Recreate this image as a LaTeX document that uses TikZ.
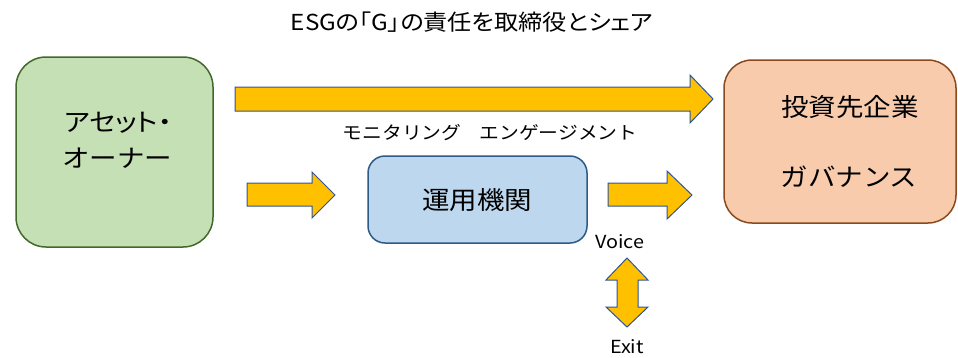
\documentclass[tikz,border=0pt]{standalone}
\usepackage{fontspec}
\setmainfont[FakeStretch=1.1]{Noto Sans CJK JP}
\newfontfamily\jpprop[FakeStretch=1.1,RawFeature=+palt]{Noto Sans CJK JP}
\definecolor{gfill}{HTML}{C5E0B4}
\definecolor{gdraw}{HTML}{43682B}
\definecolor{bfill}{HTML}{BDD7EE}
\definecolor{bdraw}{HTML}{2E5A87}
\definecolor{ofill}{HTML}{F8CBAD}
\definecolor{odraw}{HTML}{8A4A1E}
\definecolor{afill}{HTML}{FFC000}
\definecolor{adraw}{HTML}{2F5597}
\tikzset{
  box/.style={draw, line width=1.5pt, inner sep=0pt},
  blockarrow/.style={fill=afill, draw=adraw, line width=1pt, line join=miter},
  bigtxt/.style={font=\fontsize{25}{29}\selectfont, inner sep=0pt},
  midtxt/.style={font=\fontsize{18}{22}\selectfont, inner sep=0pt},
}
\begin{document}
\begin{tikzpicture}[x=1pt,y=-1pt]
\useasboundingbox (0,0) rectangle (958,357);
% title
\node[font=\jpprop\fontsize{22}{26}\selectfont, inner sep=0pt] (title) at (472,22) {ESGの「G」の責任を取締役とシェア};
% boxes
\node[box, fill=gfill, draw=gdraw, rounded corners=30pt, minimum width=197pt, minimum height=190pt] (owner) at (114.5,152) {};
\node[box, fill=bfill, draw=bdraw, rounded corners=17pt, minimum width=219pt, minimum height=87pt] (mgr) at (477.5,199.5) {};
\node[box, fill=ofill, draw=odraw, rounded corners=28pt, minimum width=232pt, minimum height=163pt] (firm) at (840,141.5) {};
% box texts
\node[bigtxt, font=\jpprop\fontsize{25}{29}\selectfont, anchor=west] (o1) at (64,123) {アセット・};
\node[bigtxt, anchor=west] (o2) at (62,158) {オーナー};
\node[bigtxt] (m1) at (477,200) {運用機関};
\node[bigtxt] (f1) at (850,107) {投資先企業};
\node[bigtxt] (f2) at (849,177) {ガバナンス};
% long arrow
\draw[blockarrow] (235,87) -- (690,87) -- (690,75) -- (713,99) -- (690,123) -- (690,111) -- (235,111) -- cycle;
\node[midtxt] (lbl) at (490,133) {モニタリング\hspace{18pt}エンゲージメント};
% owner -> manager
\draw[blockarrow] (247,183) -- (312,183) -- (312,172) -- (335,195) -- (312,218) -- (312,206) -- (247,206) -- cycle;
% manager -> firm
\draw[blockarrow] (608,183) -- (667,183) -- (667,171) -- (692,195) -- (667,219) -- (667,206) -- (608,206) -- cycle;
% voice / exit
\node[midtxt] (voice) at (620,242) {Voice};
\node[midtxt] (exit) at (627,347) {Exit};
\draw[blockarrow] (627,258) -- (648,280) -- (638,280) -- (638,307) -- (648,307) -- (627,327) -- (606,307) -- (617,307) -- (617,280) -- (606,280) -- cycle;
\end{tikzpicture}
\end{document}
